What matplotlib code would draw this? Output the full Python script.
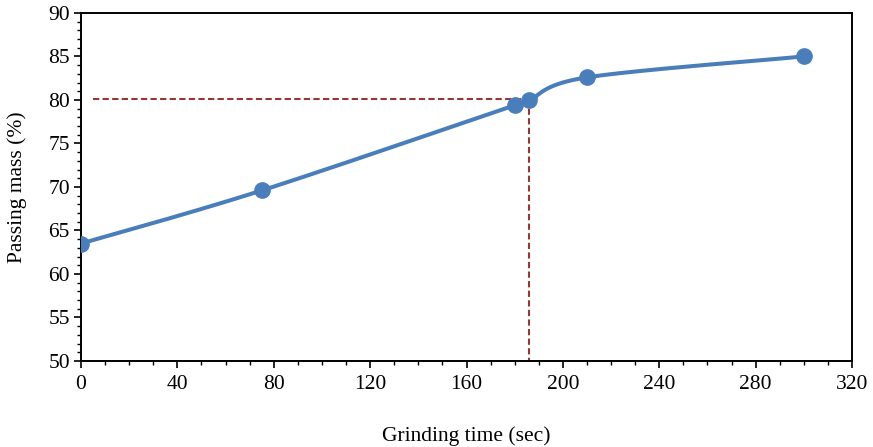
import numpy as np
import matplotlib
matplotlib.use("Agg")
import matplotlib.pyplot as plt
from matplotlib.ticker import MultipleLocator

time_sec = [0, 75, 180, 186, 210, 300]
passing = [63.5, 69.6, 79.4, 80.0, 82.6, 85.0]
ref_level = 80.15
ref_time = 186
ref_start = 5

plt.rcParams['font.family'] = ['Liberation Serif', 'DejaVu Serif']

def smooth(xs, ys, n=40):
    xs = np.asarray(xs, float); ys = np.asarray(ys, float)
    px = np.concatenate([[xs[0]], xs, [xs[-1]]])
    py = np.concatenate([[ys[0]], ys, [ys[-1]]])
    ox, oy = [], []
    for i in range(1, len(px) - 2):
        p0 = np.array([px[i], py[i]]); p3 = np.array([px[i+1], py[i+1]])
        p1 = p0 + (np.array([px[i+1], py[i+1]]) - np.array([px[i-1], py[i-1]])) / 6
        p2 = p3 - (np.array([px[i+2], py[i+2]]) - np.array([px[i], py[i]])) / 6
        t = np.linspace(0, 1, n)[:, None]
        b = (1-t)**3*p0 + 3*(1-t)**2*t*p1 + 3*(1-t)*t**2*p2 + t**3*p3
        ox.extend(b[:, 0]); oy.extend(b[:, 1])
    return np.array(ox), np.array(oy)

fig = plt.figure(figsize=(8.73, 4.47), dpi=100)
ax = fig.add_axes([0.0928, 0.1924, 0.8832, 0.7786])

sx, sy = smooth(time_sec, passing)
ax.plot(sx, sy, color='#4A7EBB', lw=2.9, zorder=3, solid_capstyle='round')
ax.plot(time_sec, passing, 'o', color='#4A7EBB', ms=11, zorder=4)

ax.plot([ref_start, ref_time], [ref_level, ref_level], ls=(0, (3, 1.6)), color='#953735', lw=1.5, zorder=2)
ax.plot([ref_time, ref_time], [ref_level, 50], ls=(0, (3, 1.6)), color='#953735', lw=1.5, zorder=2)

ax.set_xlim(0, 320)
ax.set_ylim(50, 90)
ax.xaxis.set_major_locator(MultipleLocator(40))
ax.xaxis.set_minor_locator(MultipleLocator(10))
ax.yaxis.set_major_locator(MultipleLocator(5))
ax.yaxis.set_minor_locator(MultipleLocator(1))
ax.tick_params(which='major', direction='out', length=5, width=1.2, labelsize=15.5, colors='black')
ax.tick_params(which='minor', direction='out', length=3, width=1.0)
ax.tick_params(axis='x', pad=5)
ax.tick_params(axis='y', pad=3)
for s in ax.spines.values():
    s.set_linewidth(1.4)

ax.set_xlabel('Grinding time (sec)', fontsize=15.5, labelpad=23)
ax.set_ylabel('Passing mass (%)', fontsize=15.5, labelpad=15)

fig.savefig('out.png', dpi=100)
